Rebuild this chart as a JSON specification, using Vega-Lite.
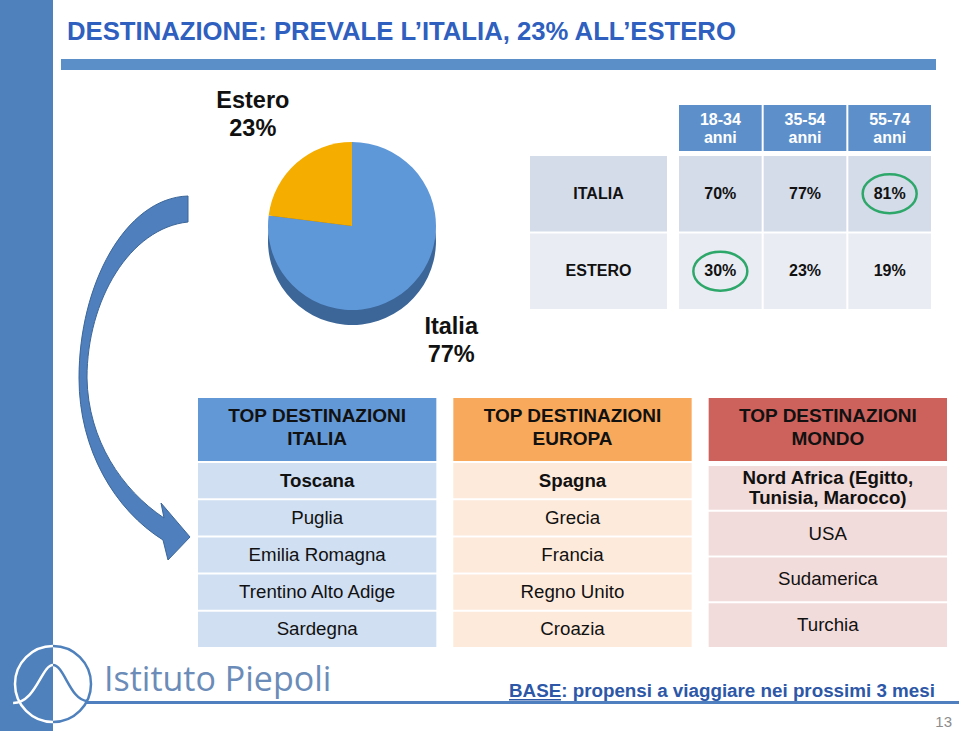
{
  "$schema": "https://vega.github.io/schema/vega-lite/v6.json",
  "width": 959,
  "height": 731,
  "padding": 0,
  "autosize": {"type": "none"},
  "background": "white",
  "config": {
    "view": {"stroke": null},
    "axis": {"disable": true},
    "legend": {"disable": true},
    "font": "Liberation Sans",
    "text": {"font": "Liberation Sans"}
  },
  "datasets": {
    "pie": [
      {"dest": "Italia", "pct": 0.77},
      {"dest": "Estero", "pct": 0.23}
    ],
    "age": [
      {"dest": "ITALIA", "age": "18-34", "pct": 0.70},
      {"dest": "ITALIA", "age": "35-54", "pct": 0.77},
      {"dest": "ITALIA", "age": "55-74", "pct": 0.81},
      {"dest": "ESTERO", "age": "18-34", "pct": 0.30},
      {"dest": "ESTERO", "age": "35-54", "pct": 0.23},
      {"dest": "ESTERO", "age": "55-74", "pct": 0.19}
    ],
    "top": [
      {"area": "ITALIA", "rank": 1, "place": "Toscana"},
      {"area": "ITALIA", "rank": 2, "place": "Puglia"},
      {"area": "ITALIA", "rank": 3, "place": "Emilia Romagna"},
      {"area": "ITALIA", "rank": 4, "place": "Trentino Alto Adige"},
      {"area": "ITALIA", "rank": 5, "place": "Sardegna"},
      {"area": "EUROPA", "rank": 1, "place": "Spagna"},
      {"area": "EUROPA", "rank": 2, "place": "Grecia"},
      {"area": "EUROPA", "rank": 3, "place": "Francia"},
      {"area": "EUROPA", "rank": 4, "place": "Regno Unito"},
      {"area": "EUROPA", "rank": 5, "place": "Croazia"},
      {"area": "MONDO", "rank": 1, "place": "Nord Africa (Egitto,\nTunisia, Marocco)"},
      {"area": "MONDO", "rank": 2, "place": "USA"},
      {"area": "MONDO", "rank": 3, "place": "Sudamerica"},
      {"area": "MONDO", "rank": 4, "place": "Turchia"}
    ]
  },
  "resolve": {"scale": {"x": "independent", "y": "independent", "color": "independent", "theta": "independent"}},
  "layer": [
    {
      "data": {"values": [{"part": "sidebar"}]},
      "mark": {"type": "rect", "fill": "#4f81bd"},
      "encoding": {
        "x": {"field": "part", "type": "nominal", "scale": {"type": "band", "range": [0, 53], "paddingInner": 0, "paddingOuter": 0}},
        "y": {"field": "part", "type": "nominal", "scale": {"type": "band", "range": [0, 731], "paddingInner": 0, "paddingOuter": 0}}
      }
    },
    {
      "data": {"values": [{"part": "titlebar"}]},
      "mark": {"type": "rect", "fill": "#5b8fc8"},
      "encoding": {
        "x": {"field": "part", "type": "nominal", "scale": {"type": "band", "range": [61, 936], "paddingInner": 0, "paddingOuter": 0}},
        "y": {"field": "part", "type": "nominal", "scale": {"type": "band", "range": [59, 70], "paddingInner": 0, "paddingOuter": 0}}
      }
    },
    {
      "data": {"values": [{"text": "DESTINAZIONE: PREVALE L’ITALIA, 23% ALL’ESTERO"}]},
      "mark": {"type": "text", "align": "left", "baseline": "alphabetic", "fontSize": 25.7, "fontWeight": "bold", "fill": "#2f5fbf"},
      "encoding": {
        "text": {"field": "text"},
        "x": {"field": "text", "type": "nominal", "scale": {"type": "point", "range": [67, 67]}},
        "y": {"field": "text", "type": "nominal", "scale": {"type": "point", "range": [40, 40]}}
      }
    },
    {
      "data": {"values": [{"part": "arrow"}]},
      "mark": {"type": "point", "shape": "M0.265,-0.905 C-0.05,-0.895 -0.28,-0.46 -0.28,0.005 C-0.28,0.365 -0.1,0.665 0.14,0.815 L0.165,0.915 L0.275,0.8 L0.13,0.63 L0.145,0.705 C-0.065,0.565 -0.235,0.315 -0.24,0.005 C-0.24,-0.385 -0.025,-0.745 0.265,-0.775 Z", "size": 160000, "filled": true, "fill": "#4f7fbc", "stroke": "#3b6699", "strokeWidth": 1, "opacity": 1},
      "encoding": {
        "x": {"field": "part", "type": "nominal", "scale": {"type": "point", "range": [135, 135]}},
        "y": {"field": "part", "type": "nominal", "scale": {"type": "point", "range": [377, 377]}}
      }
    },
    {
      "data": {"name": "pie"},
      "mark": {"type": "arc", "outerRadius": 84},
      "encoding": {
        "theta": {"field": "pct", "type": "quantitative", "stack": true},
        "order": {"field": "pct", "sort": "descending"},
        "color": {"field": "dest", "type": "nominal", "scale": {"domain": ["Italia", "Estero"], "range": ["#3c6698", "#9c6a00"]}},
        "x": {"datum": "pie", "type": "nominal", "scale": {"type": "point", "range": [352, 352]}},
        "y": {"datum": "pie", "type": "nominal", "scale": {"type": "point", "range": [241, 241]}}
      }
    },
    {
      "data": {"name": "pie"},
      "encoding": {
        "theta": {"field": "pct", "type": "quantitative", "stack": true},
        "order": {"field": "pct", "sort": "descending"},
        "detail": {"field": "dest"},
        "x": {"datum": "pie", "type": "nominal", "scale": {"type": "point", "range": [352, 352]}},
        "y": {"datum": "pie", "type": "nominal", "scale": {"type": "point", "range": [226, 226]}}
      },
      "layer": [
        {
          "mark": {"type": "arc", "outerRadius": 84},
          "encoding": {"color": {"field": "dest", "type": "nominal", "scale": {"domain": ["Italia", "Estero"], "range": ["#5f98d9", "#f5ad00"]}}}
        },
        {
          "mark": {"type": "text", "radius": 150, "dy": -12, "align": "center", "baseline": "middle", "fontSize": 23.5, "fontWeight": "bold", "fill": "#111111"},
          "encoding": {"text": {"field": "dest"}}
        },
        {
          "mark": {"type": "text", "radius": 150, "dy": 16, "align": "center", "baseline": "middle", "fontSize": 23.5, "fontWeight": "bold", "fill": "#111111"},
          "encoding": {"text": {"field": "pct", "format": ".0%"}}
        }
      ]
    },
    {
      "data": {"values": [{"age": "18-34", "unit": "anni"}, {"age": "35-54", "unit": "anni"}, {"age": "55-74", "unit": "anni"}]},
      "encoding": {
        "x": {"field": "age", "type": "nominal", "scale": {"type": "band", "domain": ["18-34", "35-54", "55-74"], "range": [679, 931], "paddingInner": 0.0236, "paddingOuter": 0}},
        "y": {"field": "unit", "type": "nominal", "scale": {"type": "band", "range": [105, 151], "paddingInner": 0, "paddingOuter": 0}}
      },
      "layer": [
        {"mark": {"type": "rect", "fill": "#5d8fca"}},
        {"mark": {"type": "text", "dy": -8, "align": "center", "baseline": "middle", "fontSize": 16, "fontWeight": "bold", "fill": "white"}, "encoding": {"text": {"field": "age"}}},
        {"mark": {"type": "text", "dy": 10, "align": "center", "baseline": "middle", "fontSize": 16, "fontWeight": "bold", "fill": "white"}, "encoding": {"text": {"field": "unit"}}}
      ]
    },
    {
      "data": {"name": "age"},
      "transform": [{"aggregate": [{"op": "count", "as": "n"}], "groupby": ["dest"]}],
      "encoding": {
        "x": {"datum": "label", "type": "nominal", "scale": {"type": "band", "range": [530, 667], "paddingInner": 0, "paddingOuter": 0}},
        "y": {"field": "dest", "type": "nominal", "scale": {"type": "band", "domain": ["ITALIA", "ESTERO"], "range": [156, 309], "paddingInner": 0.026, "paddingOuter": 0}}
      },
      "layer": [
        {"mark": "rect", "encoding": {"color": {"field": "dest", "type": "nominal", "scale": {"domain": ["ITALIA", "ESTERO"], "range": ["#d4dbe9", "#e9ecf3"]}}}},
        {"mark": {"type": "text", "align": "center", "baseline": "middle", "fontSize": 16, "fontWeight": "bold", "fill": "#111111"}, "encoding": {"text": {"field": "dest"}}}
      ]
    },
    {
      "data": {"name": "age"},
      "encoding": {
        "x": {"field": "age", "type": "nominal", "scale": {"type": "band", "domain": ["18-34", "35-54", "55-74"], "range": [679, 931], "paddingInner": 0.0236, "paddingOuter": 0}},
        "y": {"field": "dest", "type": "nominal", "scale": {"type": "band", "domain": ["ITALIA", "ESTERO"], "range": [156, 309], "paddingInner": 0.026, "paddingOuter": 0}}
      },
      "layer": [
        {"mark": "rect", "encoding": {"color": {"field": "dest", "type": "nominal", "scale": {"domain": ["ITALIA", "ESTERO"], "range": ["#d4dbe9", "#e9ecf3"]}}}},
        {"mark": {"type": "text", "align": "center", "baseline": "middle", "fontSize": 16, "fontWeight": "bold", "fill": "#111111"}, "encoding": {"text": {"field": "pct", "format": ".0%"}}},
        {
          "transform": [
            {"joinaggregate": [{"op": "max", "field": "pct", "as": "rowmax"}], "groupby": ["dest"]},
            {"filter": "datum.pct == datum.rowmax"}
          ],
          "mark": {"type": "point", "shape": "M-1,0A1,0.72 0 1,1 1,0A1,0.72 0 1,1 -1,0Z", "size": 2916, "filled": false, "stroke": "#2ea86a", "strokeWidth": 2.5, "opacity": 1}
        }
      ]
    },
    {
      "data": {"values": [{"area": "ITALIA"}, {"area": "EUROPA"}, {"area": "MONDO"}]},
      "encoding": {
        "x": {"field": "area", "type": "nominal", "scale": {"type": "band", "domain": ["ITALIA", "EUROPA", "MONDO"], "range": [198, 947], "paddingInner": 0.0666, "paddingOuter": 0}},
        "y": {"datum": "header", "type": "nominal", "scale": {"type": "band", "range": [398, 461], "paddingInner": 0, "paddingOuter": 0}}
      },
      "layer": [
        {"mark": "rect", "encoding": {"color": {"field": "area", "type": "nominal", "scale": {"domain": ["ITALIA", "EUROPA", "MONDO"], "range": ["#6398d6", "#f9a95b", "#cd625d"]}}}},
        {"mark": {"type": "text", "dy": -14, "align": "center", "baseline": "middle", "fontSize": 19, "fontWeight": "bold", "fill": "#111111"}, "encoding": {"text": {"value": "TOP DESTINAZIONI"}}},
        {"mark": {"type": "text", "dy": 9, "align": "center", "baseline": "middle", "fontSize": 19, "fontWeight": "bold", "fill": "#111111"}, "encoding": {"text": {"field": "area"}}}
      ]
    },
    {
      "data": {"name": "top"},
      "transform": [{"filter": "datum.area != 'MONDO'"}],
      "encoding": {
        "x": {"field": "area", "type": "nominal", "scale": {"type": "band", "domain": ["ITALIA", "EUROPA", "MONDO"], "range": [198, 947], "paddingInner": 0.0666, "paddingOuter": 0}},
        "y": {"field": "rank", "type": "ordinal", "scale": {"type": "band", "domain": [1, 2, 3, 4, 5], "range": [463, 647], "paddingInner": 0.054, "paddingOuter": 0}}
      },
      "layer": [
        {"mark": "rect", "encoding": {"color": {"field": "area", "type": "nominal", "scale": {"domain": ["ITALIA", "EUROPA", "MONDO"], "range": ["#d0dff2", "#fdeadb", "#f2dcdb"]}}}},
        {"transform": [{"filter": "datum.rank == 1"}], "mark": {"type": "text", "align": "center", "baseline": "middle", "fontSize": 18.7, "fontWeight": "bold", "fill": "#111111"}, "encoding": {"text": {"field": "place"}}},
        {"transform": [{"filter": "datum.rank > 1"}], "mark": {"type": "text", "align": "center", "baseline": "middle", "fontSize": 18.7, "fill": "#111111"}, "encoding": {"text": {"field": "place"}}}
      ]
    },
    {
      "data": {"name": "top"},
      "transform": [{"filter": "datum.area == 'MONDO'"}],
      "encoding": {
        "x": {"field": "area", "type": "nominal", "scale": {"type": "band", "domain": ["ITALIA", "EUROPA", "MONDO"], "range": [198, 947], "paddingInner": 0.0666, "paddingOuter": 0}},
        "y": {"field": "rank", "type": "ordinal", "scale": {"type": "band", "domain": [1, 2, 3, 4], "range": [466, 647], "paddingInner": 0.045, "paddingOuter": 0}}
      },
      "layer": [
        {"mark": "rect", "encoding": {"color": {"field": "area", "type": "nominal", "scale": {"domain": ["ITALIA", "EUROPA", "MONDO"], "range": ["#d0dff2", "#fdeadb", "#f2dcdb"]}}}},
        {"transform": [{"filter": "datum.rank == 1"}], "mark": {"type": "text", "align": "center", "baseline": "middle", "dy": -10, "fontSize": 18.7, "fontWeight": "bold", "fill": "#111111", "lineBreak": "\n", "lineHeight": 20}, "encoding": {"text": {"field": "place"}}},
        {"transform": [{"filter": "datum.rank > 1"}], "mark": {"type": "text", "align": "center", "baseline": "middle", "fontSize": 18.7, "fill": "#111111"}, "encoding": {"text": {"field": "place"}}}
      ]
    },
    {
      "data": {"values": [{"part": "footerline"}]},
      "mark": {"type": "rect", "fill": "#4f7fbf"},
      "encoding": {
        "x": {"field": "part", "type": "nominal", "scale": {"type": "band", "range": [85, 959], "paddingInner": 0, "paddingOuter": 0}},
        "y": {"field": "part", "type": "nominal", "scale": {"type": "band", "range": [701, 704], "paddingInner": 0, "paddingOuter": 0}}
      }
    },
    {
      "data": {"values": [{"part": "logo"}]},
      "encoding": {
        "x": {"field": "part", "type": "nominal", "scale": {"type": "point", "range": [53, 53]}},
        "y": {"field": "part", "type": "nominal", "scale": {"type": "point", "range": [684, 684]}}
      },
      "layer": [
        {"mark": {"type": "point", "shape": "M0,-1A1,1 0 0,0 0,1M-1.05,0.5C-0.45,0.5 -0.3,-0.5 0,-0.5", "size": 5776, "filled": false, "stroke": "white", "strokeWidth": 2.5, "opacity": 1}},
        {"mark": {"type": "point", "shape": "M0,-1A1,1 0 0,1 0,1M0,-0.5C0.3,-0.5 0.45,0.45 0.92,0.45", "size": 5776, "filled": false, "stroke": "#4f81bd", "strokeWidth": 2.5, "opacity": 1}}
      ]
    },
    {
      "data": {"values": [{"text": "Istituto Piepoli"}]},
      "mark": {"type": "text", "align": "left", "baseline": "alphabetic", "font": "Open Sans", "fontSize": 34, "fill": "#6b8cb8"},
      "encoding": {
        "text": {"field": "text"},
        "x": {"field": "text", "type": "nominal", "scale": {"type": "point", "range": [104, 104]}},
        "y": {"field": "text", "type": "nominal", "scale": {"type": "point", "range": [691, 691]}}
      }
    },
    {
      "data": {"values": [{"text": "BASE: propensi a viaggiare nei prossimi 3 mesi"}]},
      "mark": {"type": "text", "align": "left", "baseline": "alphabetic", "fontSize": 18.8, "fontWeight": "bold", "fill": "#2d57a7"},
      "encoding": {
        "text": {"field": "text"},
        "x": {"field": "text", "type": "nominal", "scale": {"type": "point", "range": [509, 509]}},
        "y": {"field": "text", "type": "nominal", "scale": {"type": "point", "range": [697, 697]}}
      }
    },
    {
      "data": {"values": [{"part": "underline"}]},
      "mark": {"type": "rect", "fill": "#2d57a7"},
      "encoding": {
        "x": {"field": "part", "type": "nominal", "scale": {"type": "band", "range": [509, 561], "paddingInner": 0, "paddingOuter": 0}},
        "y": {"field": "part", "type": "nominal", "scale": {"type": "band", "range": [699, 700.5], "paddingInner": 0, "paddingOuter": 0}}
      }
    },
    {
      "data": {"values": [{"text": "13"}]},
      "mark": {"type": "text", "align": "right", "baseline": "alphabetic", "fontSize": 15, "fill": "#8c8c8c"},
      "encoding": {
        "text": {"field": "text"},
        "x": {"field": "text", "type": "nominal", "scale": {"type": "point", "range": [952, 952]}},
        "y": {"field": "text", "type": "nominal", "scale": {"type": "point", "range": [727, 727]}}
      }
    }
  ]
}
